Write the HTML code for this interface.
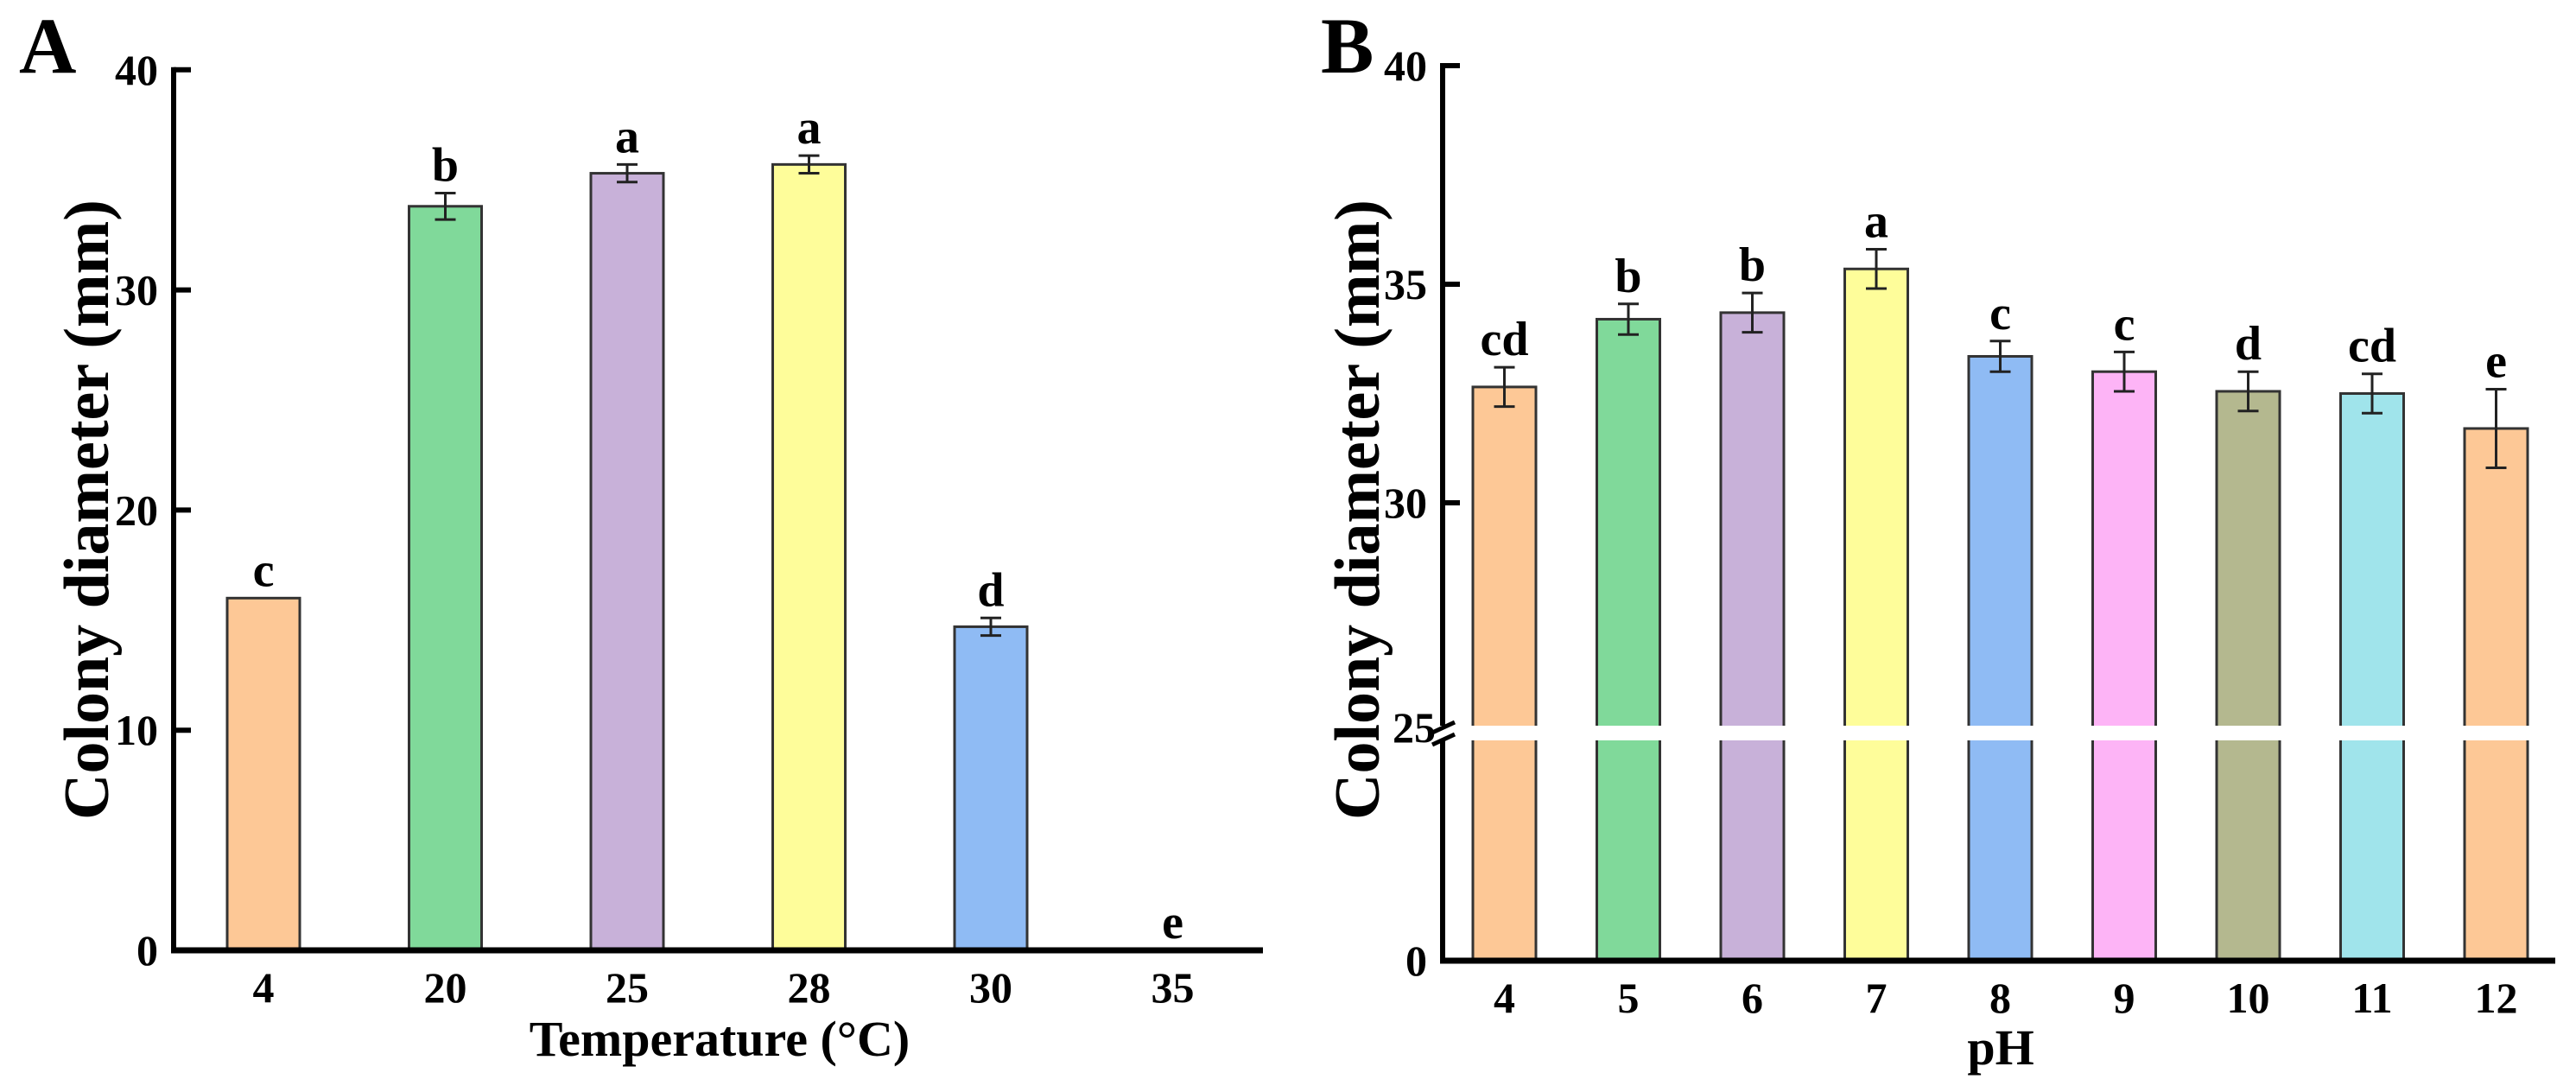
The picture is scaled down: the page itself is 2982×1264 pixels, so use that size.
<!DOCTYPE html>
<html><head><meta charset="utf-8"><style>
html,body{margin:0;padding:0;background:#fff}
svg text{font-family:"Liberation Serif",serif;font-weight:bold;fill:#000}
</style></head><body>
<svg id="fig" width="2982" height="1259" viewBox="0 0 2982 1259" xmlns="http://www.w3.org/2000/svg">
<g id="pa"></g>
<g id="pb"></g>
</svg>
<script>
const aCategories = ["4","20","25","28","30","35"];
const aValues = [16.0, 33.8, 35.3, 35.7, 14.7, 0];
const aErrors = [0, 0.6, 0.4, 0.4, 0.4, 0];
const aLetters = ["c","b","a","a","d","e"];
const aTicks = [0,10,20,30,40];
const aColors = ["#FDC896","#80D99A","#C8B1D9","#FEFD9A","#8FBBF4","#FDC896"];

const bCategories = ["4","5","6","7","8","9","10","11","12"];
const bValues = [32.65, 34.2, 34.35, 35.35, 33.35, 33.0, 32.55, 32.5, 31.7];
const bErrors = [0.45, 0.35, 0.45, 0.45, 0.35, 0.45, 0.45, 0.45, 0.9];
const bLetters = ["cd","b","b","a","c","c","d","cd","e"];
const bTicks = [0,25,30,35,40];
const bColors = ["#FDC896","#80D99A","#C8B1D9","#FEFD9A","#8FBBF4","#FDB4F6","#B4B88F","#A0E4EB","#FDC896"];

const NS="http://www.w3.org/2000/svg";
function mk(parent,tag,attrs,text){const e=document.createElementNS(NS,tag);for(const k in attrs)e.setAttribute(k,attrs[k]);if(text!==undefined)e.textContent=text;parent.appendChild(e);return e;}

// Panel A
(function(){
  const g=document.getElementById('pa');
  const ax=201, y0=1100, ppu=25.48, xEnd=1462;
  const y=v=>y0-v*ppu;
  const xc=i=>305+i*210.5;
  const bw=84;
  let t=mk(g,'text',{x:22,y:84,'font-size':92});t.textContent='A';
  
  aValues.forEach((v,i)=>{
    if(v>0){
      const r=mk(g,'rect',{x:xc(i)-bw/2,y:y(v),width:bw,height:y0-y(v),fill:aColors[i],stroke:'#333',"stroke-width":3});
      
      
    }
    const e=aErrors[i];
    if(e>0){
      const eg=mk(g,'g',{stroke:'#222','stroke-width':3});
      
      
      mk(eg,'line',{x1:xc(i),x2:xc(i),y1:y(v+e),y2:y(v-e)});
      mk(eg,'line',{x1:xc(i)-12,x2:xc(i)+12,y1:y(v+e),y2:y(v+e)});
      mk(eg,'line',{x1:xc(i)-12,x2:xc(i)+12,y1:y(v-e),y2:y(v-e)});
    }
    const lt=mk(g,'text',{x:xc(i),y:y(v+e)-14,'font-size':56,'text-anchor':'middle'},aLetters[i]);
    
    
    const xl=mk(g,'text',{x:xc(i),y:1160,'font-size':50,'text-anchor':'middle'},aCategories[i]);
    
    
  });
  aTicks.forEach(v=>{
    const tk=mk(g,'line',{x1:ax,x2:ax+20,y1:y(v),y2:y(v),stroke:'#000','stroke-width':6});
    
    
    const tl=mk(g,'text',{x:ax-18,y:y(v)+17,'font-size':50,'text-anchor':'end'},String(v));
    
    
  });
  const yaxis=mk(g,'line',{x1:ax,x2:ax,y1:y(40)-3,y2:y0+3,stroke:'#000','stroke-width':6});
  
  const xaxis=mk(g,'line',{x1:ax-3,x2:xEnd,y1:y0,y2:y0,stroke:'#000','stroke-width':7});
  
  const yt=mk(g,'text',{x:0,y:0,'font-size':74,'text-anchor':'middle',transform:'translate(125,590) rotate(-90)'},'Colony diameter (mm)');
  
  const xt=mk(g,'text',{x:833,y:1222,'font-size':58,'text-anchor':'middle'},'Temperature (°C)');
  
})();

// Panel B
(function(){
  const g=document.getElementById('pb');
  const ax=1670, y0=1112, xEnd=2958;
  const lowPpu=(1112-850)/25, upPpu=50.6;
  const y=v=>v<=25? y0-v*lowPpu : 835-(v-25)*upPpu;
  const xc=i=>1741.5+i*143.5;
  const bw=73;
  let t=mk(g,'text',{x:1529,y:84,'font-size':92});t.textContent='B';
  
  bValues.forEach((v,i)=>{
    const r=mk(g,'rect',{x:xc(i)-bw/2,y:y(v),width:bw,height:y0-y(v),fill:bColors[i],stroke:'#333','stroke-width':3});
    
    
    const e=bErrors[i];
    const eg=mk(g,'g',{stroke:'#222','stroke-width':3});
    
    
    mk(eg,'line',{x1:xc(i),x2:xc(i),y1:y(v+e),y2:y(v-e)});
    mk(eg,'line',{x1:xc(i)-12,x2:xc(i)+12,y1:y(v+e),y2:y(v+e)});
    mk(eg,'line',{x1:xc(i)-12,x2:xc(i)+12,y1:y(v-e),y2:y(v-e)});
    const lt=mk(g,'text',{x:xc(i),y:y(v+e)-14,'font-size':56,'text-anchor':'middle'},bLetters[i]);
    
    
    const xl=mk(g,'text',{x:xc(i),y:1172,'font-size':50,'text-anchor':'middle'},bCategories[i]);
    
    
  });
  const gap=mk(g,'rect',{x:ax+4,y:840,width:xEnd-ax,height:17,fill:'#fff'});
  
  const yaxis1=mk(g,'line',{x1:ax,x2:ax,y1:y(40)-3,y2:840,stroke:'#000','stroke-width':6});
  
  const yaxis2=mk(g,'line',{x1:ax,x2:ax,y1:857,y2:y0+3,stroke:'#000','stroke-width':6});
  
  const bm=mk(g,'g',{stroke:'#000','stroke-width':5});
  
  mk(bm,'line',{x1:ax-12,x2:ax+14,y1:848,y2:836});
  mk(bm,'line',{x1:ax-12,x2:ax+14,y1:862,y2:850});
  bTicks.forEach(v=>{
    const yy= v===25? 842 : y(v);
    if(v!==25){
      const tk=mk(g,'line',{x1:ax,x2:ax+20,y1:yy,y2:yy,stroke:'#000','stroke-width':6});
      
      
    }
    const tl=mk(g,'text',{x:v===25?ax-8:ax-18,y:yy+17,'font-size':50,'text-anchor':'end'},String(v));
    
    
  });
  const xaxis=mk(g,'line',{x1:ax-3,x2:xEnd,y1:y0,y2:y0,stroke:'#000','stroke-width':7});
  
  const yt=mk(g,'text',{x:0,y:0,'font-size':74,'text-anchor':'middle',transform:'translate(1596,590) rotate(-90)'},'Colony diameter (mm)');
  
  const xt=mk(g,'text',{x:2316,y:1232,'font-size':58,'text-anchor':'middle'},'pH');
  
})();
</script>
</body></html>
